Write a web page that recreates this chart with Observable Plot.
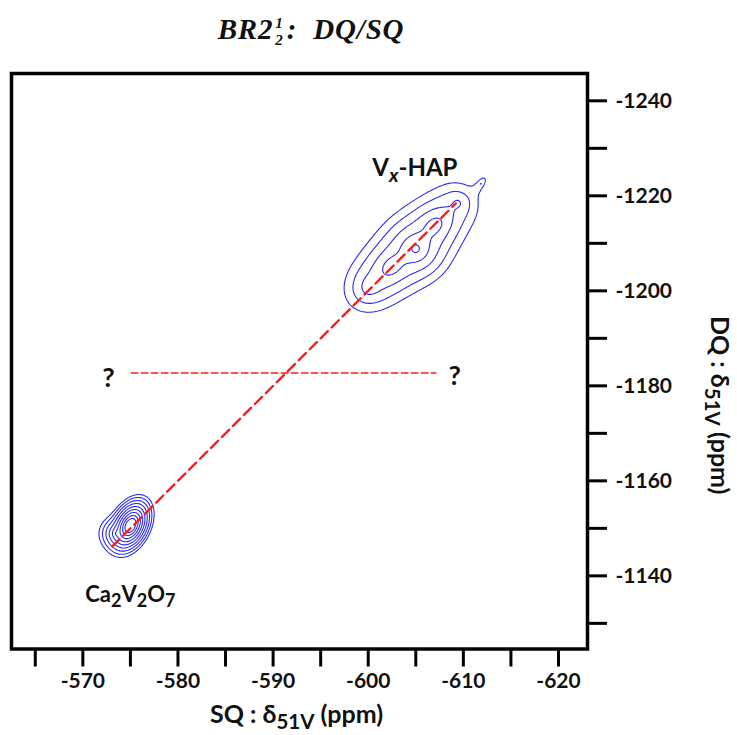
<!DOCTYPE html>
<html><head><meta charset="utf-8">
<script src="https://cdn.jsdelivr.net/npm/d3@7"></script>
<script src="https://cdn.jsdelivr.net/npm/@observablehq/plot@0.6"></script>
<style>
body{margin:0;background:#fff;width:737px;height:735px;overflow:hidden;font-family:Lato,sans-serif}
#title{position:relative;height:58px;}
#title .t{position:absolute;left:0;width:622px;top:9px;line-height:34px;text-align:center;font:italic bold 29px "Liberation Serif",serif;letter-spacing:0.8px;white-space:nowrap;color:#111}
.frac{display:inline-block;position:relative;top:6px;font-size:15px;line-height:17px;margin:0 4px 0 2px;text-align:center;vertical-align:baseline;letter-spacing:0}
.frac span{display:block}
</style></head>
<body>
<div id="title"><div class="t"></div></div>
<div id="chart"></div>
<script>
// ---- data ----
const titleMain = "BR2";
const titleFracTop = "1";
const titleFracBottom = "2";
const titleRest = ":  DQ/SQ";

const xTickValues = [-565, -570, -575, -580, -585, -590, -595, -600, -605, -610, -615, -620];
const xLabelValues = [-570, -580, -590, -600, -610, -620];
const yTickValues = [-1130, -1140, -1150, -1160, -1170, -1180, -1190, -1200, -1210, -1220, -1230, -1240];
const yLabelValues = [-1140, -1160, -1180, -1200, -1220, -1240];
const xDomain = [-562.5, -623.05];
const yDomain = [-1124.6, -1245.75];
const xTitle = "SQ : δ_{51V} (ppm)";
const yTitle = "DQ : δ_{51V} (ppm)";

// peaks of the 2D spectrum (ppm): Ca2V2O7 (2 parts) and Vx-HAP ridge (6 parts)
const peakSQ      = [-575.0, -573.52, -604.99, -602.42, -600.15, -606.98, -609.41, -611.83];
const peakDQ      = [-1150.6, -1148.88, -1208.86, -1205.09, -1200.9, -1213.82, -1218.49, -1222.55];
const peakWidthSQ = [0.321, 0.526, 1.084, 1.301, 1.180, 1.301, 1.068, 0.502];
const peakWidthDQ = [0.839, 1.052, 2.168, 2.570, 2.346, 2.570, 2.136, 1.249];
const peakCorr    = [0.36, 0, 0, 0.297, 0.151, 0.297, 0, 0.671];
const peakHeight  = [2350, 30, 24, 15.5, 6.5, 15, 4, 2];
const contourLevels = [1, 2.117, 4.48, 9.49, 20.1, 42.5, 90, 190.6, 403];

const diagSQ = [-573.1, -609.2];
const diagDQ = [-1146.2, -1218.4];
const crossSQ = [-575.1, -607.1];
const crossDQ = [-1182.7, -1182.7];

const labelText = ["V_{x}-HAP", "Ca_{2}V_{2}O_{7}"];
const labelSQ = [-604.9, -575.0];
const labelDQ = [-1225.8, -1136.0];
const labelSize = [24, 22];
const queryText = ["?", "?"];
const querySQ = [-572.7, -609.1];
const queryDQ = [-1181.5, -1181.9];

// ---- title ----
const t = document.querySelector("#title .t");
t.append(titleMain);
const fr = document.createElement("span"); fr.className = "frac";
const f1 = document.createElement("span"); f1.textContent = titleFracTop;
const f2 = document.createElement("span"); f2.textContent = titleFracBottom;
fr.append(f1, f2); t.append(fr); t.append(titleRest.replace("  ", "\u00a0 "));

// ---- spectrum field ----
function spectrum(sq, dq) {
  let v = 0;
  for (let i = 0; i < peakSQ.length; i++) {
    const u = (sq - peakSQ[i]) / peakWidthSQ[i];
    const w = (dq - peakDQ[i]) / peakWidthDQ[i];
    const r = peakCorr[i];
    const q = (u * u - 2 * r * u * w + w * w) / (1 - r * r);
    v += peakHeight[i] * Math.exp(-Math.sqrt(q));
  }
  return v;
}

const font = "Lato";
const ink = "#111";
const chart = Plot.plot({
  width: 737, height: 677,
  marginLeft: 11, marginRight: 150, marginTop: 15, marginBottom: 86.5,
  style: {fontFamily: font, background: "white"},
  x: {domain: xDomain},
  y: {domain: yDomain},
  marks: [
    Plot.contour({x1: xDomain[0], x2: xDomain[1], y1: yDomain[0], y2: yDomain[1],
      value: spectrum, thresholds: contourLevels, pixelSize: 1,
      fill: "none", stroke: "#2a2af5", strokeWidth: 1.1}),
    Plot.line(d3.zip(crossSQ, crossDQ), {stroke: "#ff1a1a", strokeWidth: 1.4, strokeDasharray: "6.5,3.5"}),
    Plot.line(d3.zip(diagSQ, diagDQ), {stroke: "#ff1a1a", strokeWidth: 2.4, strokeDasharray: "10,5.5"}),
    Plot.text([0], {x: [labelSQ[0]], y: [labelDQ[0]], text: [labelText[0]], fontSize: labelSize[0], fontWeight: "bold", fill: ink, fontFamily: font}),
    Plot.text([1], {x: [labelSQ[1]], y: [labelDQ[1]], text: [labelText[1]], fontSize: labelSize[1], fontWeight: "bold", fill: ink, fontFamily: font}),
    Plot.text(queryText, {x: querySQ, y: queryDQ, text: d => d, fontSize: 27, fontWeight: "bold", fill: ink, fontFamily: font}),
    Plot.frame({stroke: "black", strokeWidth: 3.5}),
    Plot.axisX(xTickValues, {anchor: "bottom", tickSize: 18, strokeWidth: 3, stroke: "black", tickFormat: () => "", label: null}),
    Plot.axisX(xLabelValues, {anchor: "bottom", tickSize: 0, tickPadding: 24, tickFormat: d => String(d), fontSize: 21, fontWeight: "bold", fill: ink, fontFamily: font, label: null}),
    Plot.axisY(yTickValues, {anchor: "right", tickSize: 19, strokeWidth: 3, stroke: "black", tickFormat: () => "", label: null}),
    Plot.axisY(yLabelValues, {anchor: "right", tickSize: 0, tickPadding: 28, tickFormat: d => String(d), fontSize: 21, fontWeight: "bold", fill: ink, fontFamily: font, label: null}),
    Plot.text([xTitle], {frameAnchor: "bottom", dx: -3, dy: 74, textAnchor: "middle", lineAnchor: "bottom", text: d => d, fontSize: 25, fontWeight: "bold", fill: ink, fontFamily: font}),
    Plot.text([yTitle], {frameAnchor: "right", dx: 131, dy: 44, rotate: 90, textAnchor: "middle", lineAnchor: "middle", text: d => d, fontSize: 25, fontWeight: "bold", fill: ink, fontFamily: font})
  ]
});
document.getElementById("chart").append(chart);

// subscripts: turn "_{...}" into real subscript tspans
d3.select(chart).selectAll("text").each(function() {
  const s = this.textContent;
  if (!s.includes("_{")) return;
  const fs = parseFloat(getComputedStyle(this).fontSize) || 20;
  const shift = fs * 0.24;
  const el = d3.select(this);
  this.textContent = "";
  const re = /_\{([^}]*)\}/g;
  let last = 0, m, lowered = false;
  while ((m = re.exec(s))) {
    if (m.index > last) {
      el.append("tspan").attr("dy", lowered ? -shift : null).text(s.slice(last, m.index));
      lowered = false;
    }
    const sub = el.append("tspan").attr("font-size", fs * 0.82).text(m[1]);
    if (!lowered) sub.attr("dy", shift);
    if (m[1] === "x") sub.attr("font-style", "italic");
    lowered = true;
    last = re.lastIndex;
  }
  if (last < s.length) el.append("tspan").attr("dy", lowered ? -shift : null).text(s.slice(last));
});
</script>
</body></html>
